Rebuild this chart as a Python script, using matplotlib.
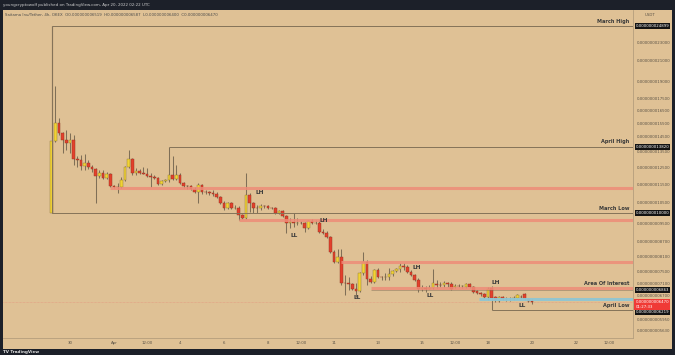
import numpy as np
import pandas as pd
import matplotlib
matplotlib.use("Agg")
import matplotlib.pyplot as plt
import matplotlib.dates as mdates
from matplotlib.ticker import NullLocator, NullFormatter

# ---------------- data (prices in units of 1e-9 USDT) ----------------
opens = [10.00, 14.21, 15.51, 14.77, 14.28, 14.07, 14.28, 13.01, 12.95, 12.58,
         12.76, 12.52, 12.39, 11.98, 12.15, 11.86, 12.09, 11.41, 11.35, 11.33,
         11.75, 12.52, 13.01, 12.15, 12.27, 12.15, 12.12, 11.98, 11.92, 11.86,
         11.52, 11.69, 11.72, 12.04, 11.80, 12.04, 11.58, 11.41, 11.38, 11.24,
         11.08, 11.46, 11.08, 11.06, 11.03, 10.97, 10.81, 10.50, 10.25, 10.50,
         10.25, 10.27, 9.90, 9.76, 10.92, 10.50, 10.25, 10.23, 10.35, 10.33,
         10.25, 10.24, 10.00, 10.10, 9.86, 9.52, 9.55, 9.53, 9.54, 9.52,
         9.29, 9.62, 9.52, 9.53, 9.12, 9.07, 8.90, 8.27, 7.87, 8.07,
         7.11, 7.09, 7.08, 6.90, 6.84, 7.46, 7.87, 7.25, 7.14, 7.57,
         7.32, 7.30, 7.31, 7.43, 7.54, 7.61, 7.72, 7.70, 7.50, 7.39,
         7.21, 6.90, 6.92, 6.91, 6.93, 7.08, 7.04, 7.03, 7.11, 7.07,
         6.98, 7.00, 6.99, 6.97, 7.07, 6.97, 6.84, 6.77, 6.74, 6.64,
         6.94, 6.64, 6.51, 6.64, 6.57, 6.56, 6.58, 6.61, 6.64, 6.74,
         6.57, 6.519]
highs = [24.899, 18.58, 15.89, 14.85, 14.99, 14.77, 14.63, 13.20, 13.27, 13.33,
         12.95, 12.64, 12.45, 12.33, 12.33, 12.21, 12.15, 11.46, 11.58, 11.92,
         12.58, 13.60, 13.08, 12.45, 12.39, 12.52, 12.45, 12.15, 12.04, 11.92,
         11.75, 11.80, 13.82, 13.20, 12.64, 12.15, 11.63, 11.46, 11.46, 11.35,
         11.58, 11.52, 11.19, 11.13, 11.19, 11.08, 10.86, 10.60, 10.55, 10.55,
         10.40, 10.35, 9.95, 12.15, 11.03, 10.55, 10.40, 10.45, 10.40, 10.40,
         10.30, 10.30, 10.15, 10.15, 9.90, 9.76, 10.00, 9.76, 9.62, 9.57,
         9.66, 9.71, 9.66, 9.66, 9.25, 9.16, 8.94, 8.35, 8.39, 8.39,
         7.39, 7.32, 7.11, 7.11, 7.50, 8.27, 7.95, 7.35, 7.61, 7.65,
         7.35, 7.46, 7.65, 7.57, 7.65, 7.84, 7.84, 7.76, 7.57, 7.43,
         7.28, 7.04, 7.00, 7.04, 7.61, 7.21, 7.14, 7.18, 7.13, 7.14,
         7.07, 7.07, 7.04, 7.11, 7.11, 7.00, 6.87, 6.80, 6.77, 6.97,
         7.00, 6.67, 6.67, 6.67, 6.64, 6.64, 6.67, 6.74, 6.70, 6.77,
         6.61, 6.587]
lows = [10.00, 14.15, 14.63, 13.40, 13.60, 13.40, 12.64, 12.52, 12.33, 12.33,
        12.39, 12.21, 10.50, 11.86, 11.80, 11.80, 11.35, 11.30, 11.03, 11.30,
        11.69, 12.45, 12.04, 12.04, 12.09, 12.09, 11.92, 11.35, 11.80, 11.46,
        11.46, 11.63, 11.63, 11.75, 11.75, 11.52, 11.30, 11.24, 11.19, 11.03,
        10.50, 10.97, 10.97, 10.92, 10.86, 10.76, 10.45, 10.15, 10.20, 10.20,
        10.20, 9.66, 9.71, 9.71, 10.05, 10.00, 10.00, 10.15, 10.25, 10.20,
        10.20, 9.95, 9.95, 9.81, 9.07, 9.29, 9.34, 9.43, 9.48, 9.12,
        9.25, 9.48, 9.48, 9.07, 9.03, 8.85, 8.23, 7.84, 7.84, 7.04,
        6.70, 6.87, 6.87, 6.64, 6.80, 7.39, 7.04, 7.11, 7.10, 7.28,
        7.21, 7.21, 7.21, 7.35, 7.50, 7.50, 7.57, 7.46, 7.35, 7.18,
        6.80, 6.84, 6.80, 6.90, 6.90, 6.94, 6.97, 6.97, 6.97, 6.87,
        6.94, 6.97, 6.94, 6.94, 6.94, 6.77, 6.74, 6.67, 6.61, 6.54,
        6.219, 6.48, 6.49, 6.54, 6.51, 6.51, 6.54, 6.57, 6.57, 6.54,
        6.48, 6.400]
closes = [14.21, 15.51, 14.77, 14.28, 14.07, 14.28, 13.01, 12.95, 12.58, 12.76,
          12.52, 12.39, 11.98, 12.15, 11.86, 12.09, 11.41, 11.35, 11.33, 11.75,
          12.52, 13.01, 12.15, 12.27, 12.15, 12.12, 11.98, 11.92, 11.86, 11.52,
          11.69, 11.72, 12.04, 11.80, 12.04, 11.58, 11.41, 11.38, 11.24, 11.08,
          11.46, 11.08, 11.06, 11.03, 10.97, 10.81, 10.50, 10.25, 10.50, 10.25,
          10.27, 9.90, 9.76, 10.92, 10.50, 10.25, 10.23, 10.35, 10.33, 10.25,
          10.24, 10.00, 10.10, 9.86, 9.52, 9.55, 9.53, 9.54, 9.52, 9.29,
          9.62, 9.52, 9.53, 9.12, 9.07, 8.90, 8.27, 7.87, 8.07, 7.11,
          7.09, 7.08, 6.90, 6.84, 7.46, 7.87, 7.25, 7.14, 7.57, 7.32,
          7.30, 7.31, 7.43, 7.54, 7.61, 7.72, 7.70, 7.50, 7.39, 7.21,
          6.90, 6.92, 6.91, 6.93, 7.11, 7.04, 7.03, 7.11, 7.07, 6.90,
          7.00, 6.99, 7.00, 7.07, 6.97, 6.80, 6.77, 6.74, 6.64, 6.90,
          6.61, 6.54, 6.64, 6.57, 6.56, 6.57, 6.60, 6.70, 6.63, 6.57,
          6.51, 6.470]

start_time = "2022-03-29 04:00"

MARCH_HIGH = 24.899
APRIL_HIGH = 13.820
MARCH_LOW = 10.000
AREA_OF_INTEREST = 6.863
APRIL_LOW = 6.219
LAST_PRICE = 6.470

# red zones: (price, start candle index)
zone_prices = [11.30, 9.66, 7.87, 6.94]
zone_start = [16, 51, 79, 87]
blue_price = 6.57
blue_start = 117

# swing labels: (text, candle index, price)
swing_text = ["LH", "LL", "LH", "LL", "LH", "LL", "LH", "LL"]
swing_idx = [56.8, 66.2, 74.2, 83.2, 99.5, 103.2, 121.2, 128.2]
swing_price = [11.03, 8.98, 9.66, 6.61, 7.68, 6.67, 7.14, 6.38]

ytick_vals = [23.0, 21.0, 19.0, 17.5, 16.5, 15.5, 14.5, 13.5, 12.5, 11.5,
              10.5, 9.5, 8.7, 8.1, 7.5, 7.1, 6.7, 5.95, 5.63]

xtick_times = ["2022-03-30", "2022-04-01", "2022-04-02 12:00", "2022-04-04",
               "2022-04-06", "2022-04-08", "2022-04-09 12:00", "2022-04-11",
               "2022-04-13", "2022-04-15", "2022-04-16 12:00", "2022-04-18",
               "2022-04-20", "2022-04-22", "2022-04-23 12:00"]
xtick_labels = ["30", "Apr", "12:00", "4", "6", "8", "12:00", "11", "13", "15",
                "12:00", "18", "20", "22", "12:00"]

# ---------------- styling ----------------
BG = "#dfc195"
DARK = "#1c2029"
YEL = "#f2d334"
YEL_E = "#8c7634"
RED = "#e3402c"
RED_E = "#8e3322"
WICK = "#7f6f57"
RAY = "#857359"
ZONE = "#ee8c78"
BLUE = "#8fc6d3"
TXT = "#3a3a3a"

W, H = 675, 355
fig = plt.figure(figsize=(W / 100, H / 100), dpi=100)
fig.patch.set_facecolor(DARK)

# tan canvas
canvas = fig.add_axes([3 / W, (H - 349) / H, (672 - 3) / W, (349 - 10) / H])
canvas.set_facecolor(BG)
canvas.set_xticks([]); canvas.set_yticks([])
for s in canvas.spines.values():
    s.set_visible(False)

ax = fig.add_axes([3 / W, (H - 338) / H, (633 - 3) / W, (338 - 10) / H])
ax.set_facecolor("none")
ax.set_yscale("log")

times = pd.date_range(start_time, periods=len(opens), freq="4h")
x = mdates.date2num(times.to_pydatetime())
step = 4 / 24.0
o = np.array(opens); h = np.array(highs); l = np.array(lows); c = np.array(closes)
up = c >= o

apr1 = mdates.date2num(pd.Timestamp("2022-04-01").to_pydatetime())
x_left, x_right = apr1 - 5.045, apr1 + 23.59
ax.set_xlim(x_left, x_right)
ax.set_ylim(5.434, 26.92)

def xi(i):
    return x[0] + i * step

# current price line
ax.hlines(LAST_PRICE, x_left, x_right, colors="#e49a80", linewidth=0.5,
          linestyles=(0, (1, 1)), zorder=1)

# wicks
ax.vlines(x, l, h, colors=WICK, linewidth=0.75, zorder=2)
# bodies
bw = step * 0.76
ax.bar(x[up], c[up] - o[up], bottom=o[up], width=bw, color=YEL,
       edgecolor=YEL_E, linewidth=0.3, zorder=3)
ax.bar(x[~up], o[~up] - c[~up], bottom=c[~up], width=bw, color=RED,
       edgecolor=RED_E, linewidth=0.3, zorder=3)

# zones
for p, si in zip(zone_prices, zone_start):
    ax.hlines(p, xi(si), x_right, colors=ZONE, linewidth=2.2, alpha=0.85, zorder=4)
ax.hlines(blue_price, xi(blue_start) - step * 0.4, x_right, colors=BLUE,
          linewidth=2.2, alpha=0.95, zorder=4)

# rays
ax.hlines(MARCH_HIGH, x[0], x_right, colors=RAY, linewidth=0.7, zorder=4)
ax.hlines(MARCH_LOW, x[0], x_right, colors=RAY, linewidth=0.7, zorder=4)
ax.hlines(APRIL_HIGH, x[32], x_right, colors=RAY, linewidth=0.7, zorder=4)
ax.hlines(APRIL_LOW, x[120], x_right, colors=RAY, linewidth=0.7, zorder=4)
ax.hlines(AREA_OF_INTEREST, x[87], x_right, colors=RAY, linewidth=0.5, alpha=0.7, zorder=4)
ax.vlines(x[0], MARCH_LOW, MARCH_HIGH, colors=RAY, linewidth=0.8, zorder=4)

# right side level names
for name, p in [("March High", MARCH_HIGH), ("April High", APRIL_HIGH),
                ("March Low", MARCH_LOW), ("Area Of Interest", 6.94),
                ("April Low", APRIL_LOW)]:
    ax.annotate(name, xy=(x_right, p), xytext=(-2.5, 1.6), textcoords="offset points",
                ha="right", va="bottom", fontsize=3.6, fontweight="bold",
                color=TXT, zorder=6)

# swing labels
for t, i, p in zip(swing_text, swing_idx, swing_price):
    ax.text(xi(i), p, t, ha="center", va="center", fontsize=4.2,
            fontweight="bold", color=TXT, zorder=6)

# axes styling
for s in ["top", "left"]:
    ax.spines[s].set_visible(False)
ax.spines["right"].set_color("#b59e7c")
ax.spines["right"].set_linewidth(0.6)
ax.spines["bottom"].set_color("#b59e7c")
ax.spines["bottom"].set_linewidth(0.6)

ax.yaxis.tick_right()
ax.yaxis.set_minor_locator(NullLocator())
ax.yaxis.set_minor_formatter(NullFormatter())
ax.set_yticks(ytick_vals)
ax.set_yticklabels([f"{v * 1e-9:.12f}" for v in ytick_vals])
ax.tick_params(axis="y", length=0, pad=3, labelsize=2.8, labelcolor="#5a5246")

xt = [mdates.date2num(pd.Timestamp(t).to_pydatetime()) for t in xtick_times]
ax.set_xticks(xt)
ax.set_xticklabels(xtick_labels)
ax.tick_params(axis="x", length=0, pad=2.2, labelsize=2.8, labelcolor="#5a5246")

# price labels on the axis
ytr = ax.get_yaxis_transform()
for p in [MARCH_HIGH, APRIL_HIGH, MARCH_LOW, AREA_OF_INTEREST]:
    ax.text(1.004, p, f"{p * 1e-9:.12f}", transform=ytr, ha="left", va="center",
            fontsize=2.8, color="white", zorder=8, clip_on=False,
            bbox=dict(facecolor="#131313", edgecolor="none", pad=0.7))
ax.text(1.004, APRIL_LOW * 0.99, f"{APRIL_LOW * 1e-9:.12f}", transform=ytr,
        ha="left", va="center", fontsize=2.8, color="white", zorder=8, clip_on=False,
        bbox=dict(facecolor="#131313", edgecolor="none", pad=0.7))
ax.text(1.004, LAST_PRICE * 1.012, f"{LAST_PRICE * 1e-9:.12f}\n01:27:33", transform=ytr,
        ha="left", va="top", fontsize=2.8, color="white", zorder=9, clip_on=False,
        linespacing=1.3,
        bbox=dict(facecolor="#f03a36", edgecolor="none", pad=0.9))
fig.text(650 / W, 1 - 15 / H, "USDT", ha="center", va="center", fontsize=2.8,
         color="#5a5246")

# header texts
fig.text(3 / W, 1 - 5 / H,
         "youngcryptowolf published on TradingView.com, Apr 20, 2022 02:22 UTC",
         ha="left", va="center", fontsize=2.9, color="#cfcfcf")
fig.text(5 / W, 1 - 15 / H,
         "Saitama Inu/Tether, 4h, OKEX  O0.000000006519  H0.000000006587  "
         "L0.000000006400  C0.000000006470",
         ha="left", va="center", fontsize=2.8, color="#4a4a4a")
fig.text(3 / W, 1 - 352.5 / H, "TV TradingView", ha="left", va="center",
         fontsize=3.0, color="#e0e0e0", fontweight="bold")

fig.savefig("out.png", dpi=100, facecolor=fig.get_facecolor())
